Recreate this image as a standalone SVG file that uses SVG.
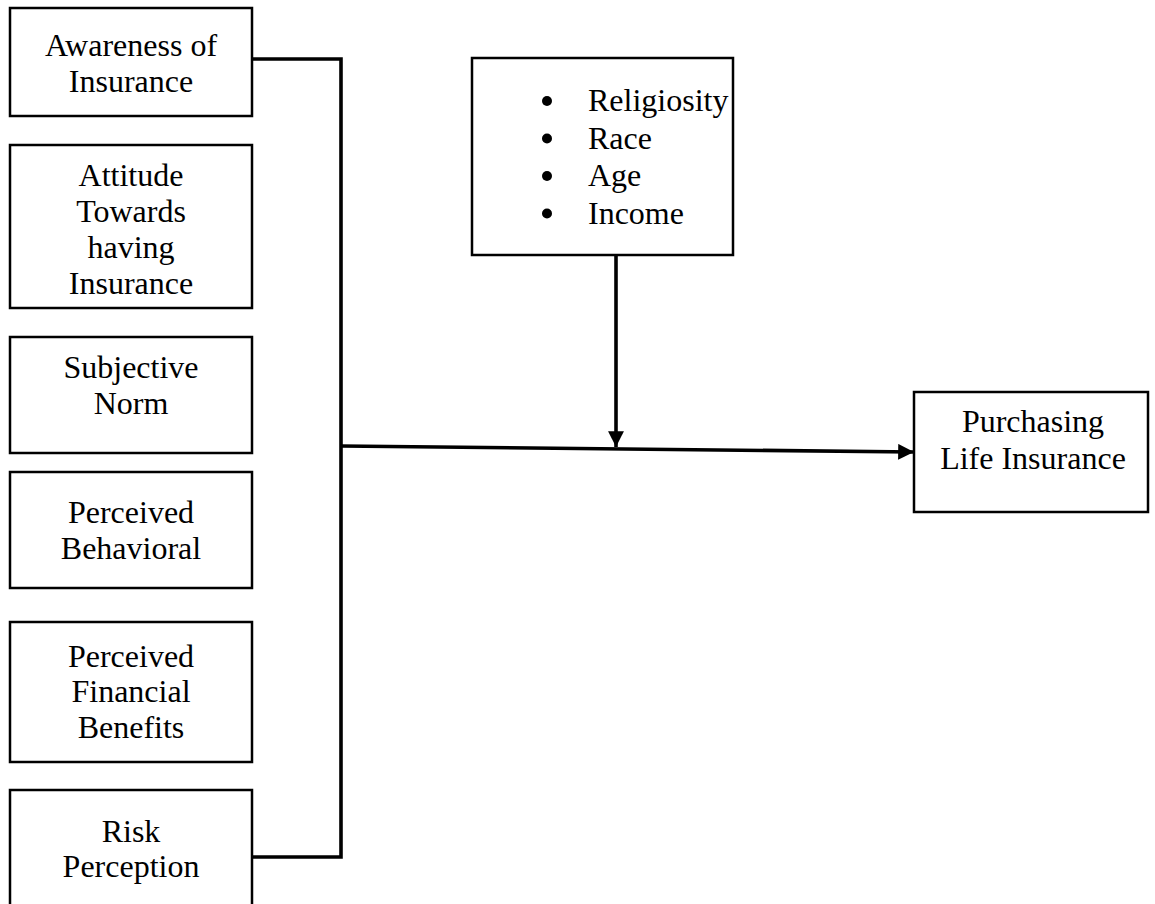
<svg xmlns="http://www.w3.org/2000/svg" width="1155" height="904" viewBox="0 0 1155 904">
  <style>
    .box { fill: #ffffff; stroke: #000000; stroke-width: 2.5; }
    .lbl { font-family: "Liberation Serif", "Times New Roman", serif; font-size: 32px; fill: #000000; }
    .mid { text-anchor: middle; }
    .wire { fill: none; stroke: #000000; stroke-width: 3.6; }
  </style>
  <defs>
    <marker id="head" viewBox="0 0 10 10" refX="10" refY="5" markerWidth="4.4" markerHeight="4.4" orient="auto" markerUnits="strokeWidth">
      <path d="M0,0 L10,5 L0,10 Z" fill="#000000"/>
    </marker>
  </defs>
  <rect width="1155" height="904" fill="#ffffff"/>

  <g id="connectors">
    <path class="wire" d="M252,59 H341 V857 H252"/>
    <path class="wire" d="M341,446 L914,452" marker-end="url(#head)"/>
    <path class="wire" d="M616,255 V447" marker-end="url(#head)"/>
  </g>

  <g id="awareness">
    <rect class="box" x="10" y="8" width="242" height="108"/>
    <text class="lbl mid" x="131" y="56">Awareness of</text>
    <text class="lbl mid" x="131" y="92">Insurance</text>
  </g>

  <g id="attitude">
    <rect class="box" x="10" y="145" width="242" height="163"/>
    <text class="lbl mid" x="131" y="186">Attitude</text>
    <text class="lbl mid" x="131" y="222">Towards</text>
    <text class="lbl mid" x="131" y="258">having</text>
    <text class="lbl mid" x="131" y="294">Insurance</text>
  </g>

  <g id="subjective-norm">
    <rect class="box" x="10" y="337" width="242" height="116"/>
    <text class="lbl mid" x="131" y="378">Subjective</text>
    <text class="lbl mid" x="131" y="414">Norm</text>
  </g>

  <g id="perceived-behavioral">
    <rect class="box" x="10" y="472" width="242" height="116"/>
    <text class="lbl mid" x="131" y="523">Perceived</text>
    <text class="lbl mid" x="131" y="559">Behavioral</text>
  </g>

  <g id="financial-benefits">
    <rect class="box" x="10" y="622" width="242" height="140"/>
    <text class="lbl mid" x="131" y="667">Perceived</text>
    <text class="lbl mid" x="131" y="702">Financial</text>
    <text class="lbl mid" x="131" y="738">Benefits</text>
  </g>

  <g id="risk-perception">
    <rect class="box" x="10" y="790" width="242" height="130"/>
    <text class="lbl mid" x="131" y="842">Risk</text>
    <text class="lbl mid" x="131" y="877">Perception</text>
  </g>

  <g id="moderators">
    <rect class="box" x="472" y="58" width="261" height="197"/>
    <circle cx="547" cy="101" r="5"/>
    <circle cx="547" cy="138.5" r="5"/>
    <circle cx="547" cy="176" r="5"/>
    <circle cx="547" cy="213.5" r="5"/>
    <text class="lbl" x="588" y="111">Religiosity</text>
    <text class="lbl" x="588" y="148.5">Race</text>
    <text class="lbl" x="588" y="186">Age</text>
    <text class="lbl" x="588" y="223.5">Income</text>
  </g>

  <g id="purchasing">
    <rect class="box" x="914" y="392" width="234" height="120"/>
    <text class="lbl mid" x="1033" y="432">Purchasing</text>
    <text class="lbl mid" x="1033" y="469">Life Insurance</text>
  </g>
</svg>
